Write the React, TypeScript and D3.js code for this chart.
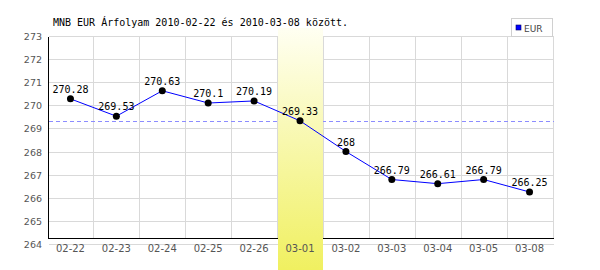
import React from "react";
import * as d3 from "d3";

const categories = ["02-22", "02-23", "02-24", "02-25", "02-26", "03-01", "03-02", "03-03", "03-04", "03-05", "03-08"];
const values = [270.28, 269.53, 270.63, 270.1, 270.19, 269.33, 268, 266.79, 266.61, 266.79, 266.25];
const yTicks = [264, 265, 266, 267, 268, 269, 270, 271, 272, 273];
const highlightCategory = "03-01";
const referenceValue = 269.33;
const seriesName = "EUR";
const title = "MNB EUR Árfolyam 2010-02-22 és 2010-03-08 között.";

const W = 600;
const H = 270;

export default function App() {
  const x = d3.scaleBand<string>().domain(categories).range([47.5, 552.5]).padding(0);
  const y = d3.scaleLinear().domain([264, 273]).range([244, 36]);
  const px = (v: number) => Math.round(v) + 0.5;
  const cx = (c: string) => (x(c) as number) + x.bandwidth() / 2;
  const line = d3
    .line<number>()
    .x((_, i) => cx(categories[i]))
    .y((d) => y(d));

  const left = px(x.range()[0]);
  const right = px(x.range()[1]);
  const top = px(y(273));
  const axisY = px(y(264) - 6);
  const hx = x(highlightCategory) as number;

  return (
    <svg
      width={W}
      height={H}
      style={{ position: "absolute", left: 0, top: 0, background: "#fff" }}
    >
      <defs>
        <linearGradient id="hl" x1="0" y1="0" x2="0" y2="1">
          <stop offset="0%" stopColor="#fffff2" />
          <stop offset="100%" stopColor="#f0f060" />
        </linearGradient>
      </defs>
      <rect x={0} y={0} width={W} height={H} fill="#fff" />
      {yTicks.map((t) => (
        <line
          key={"h" + t}
          x1={left}
          x2={right}
          y1={px(y(t))}
          y2={px(y(t))}
          stroke="#d9d9d9"
          shapeRendering="crispEdges"
        />
      ))}
      {categories.map((c) => (
        <line
          key={"v" + c}
          x1={px((x(c) as number) + x.bandwidth())}
          x2={px((x(c) as number) + x.bandwidth())}
          y1={top}
          y2={axisY}
          stroke="#d9d9d9"
          shapeRendering="crispEdges"
        />
      ))}
      <line
        x1={left}
        x2={right}
        y1={px(y(referenceValue))}
        y2={px(y(referenceValue))}
        stroke="#8c8cff"
        strokeDasharray="4,3"
        shapeRendering="crispEdges"
      />
      <line x1={left} x2={left} y1={top} y2={axisY} stroke="#000" shapeRendering="crispEdges" />
      <line x1={left} x2={right} y1={axisY} y2={axisY} stroke="#000" shapeRendering="crispEdges" />
      <rect
        x={Math.round(hx) + 1}
        y={28}
        width={Math.round(x.bandwidth()) - 1}
        height={H - 28}
        fill="url(#hl)"
      />
      {yTicks.map((t) => (
        <text
          key={"yl" + t}
          x={42}
          y={y(t) + 4}
          textAnchor="end"
          fontFamily="DejaVu Sans"
          fontSize={9.5}
          fill="#555"
        >
          {t}
        </text>
      ))}
      {categories.map((c) => (
        <text
          key={"xl" + c}
          x={cx(c)}
          y={252}
          textAnchor="middle"
          fontFamily="DejaVu Sans"
          fontSize={10}
          fill="#555"
        >
          {c}
        </text>
      ))}
      <path d={line(values) as string} fill="none" stroke="#0000ff" strokeWidth={1} />
      {values.map((v, i) => (
        <circle key={"p" + i} cx={cx(categories[i])} cy={y(v)} r={3.5} fill="#000" />
      ))}
      {values.map((v, i) => (
        <text
          key={"vl" + i}
          x={cx(categories[i])}
          y={y(v) - 6}
          textAnchor="middle"
          fontFamily="DejaVu Sans Mono"
          fontSize={10}
          fill="#000"
        >
          {String(v)}
        </text>
      ))}
      <text x={53} y={26} fontFamily="DejaVu Sans Mono" fontSize={10} fill="#000">
        {title}
      </text>
      <rect x={511.5} y={18.5} width={41} height={18} fill="#fff" stroke="#d0d0d0" shapeRendering="crispEdges" />
      <rect x={516} y={25} width={5} height={5} fill="#0000ff" stroke="#000060" strokeWidth={0.6} />
      <text x={524} y={32} fontFamily="DejaVu Sans" fontSize={9} fill="#444">
        {seriesName}
      </text>
    </svg>
  );
}
